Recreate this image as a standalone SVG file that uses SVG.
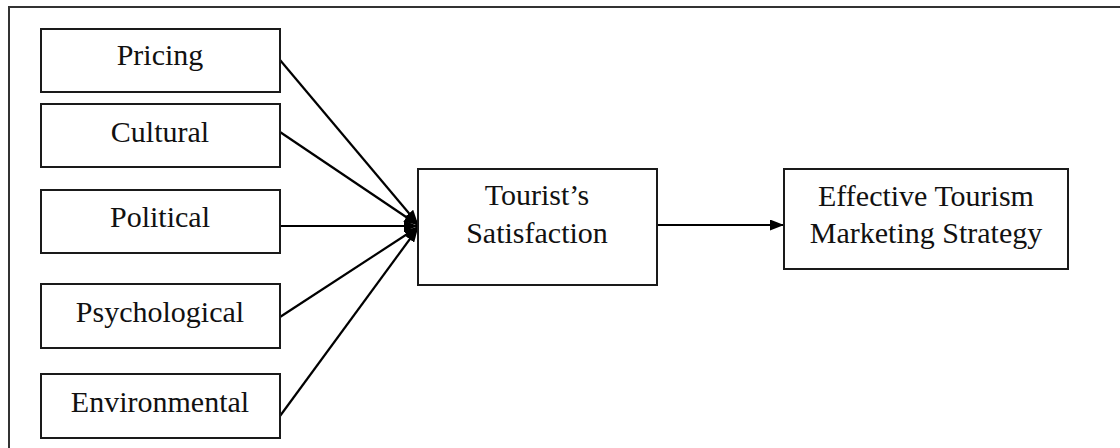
<svg xmlns="http://www.w3.org/2000/svg" width="1120" height="448" viewBox="0 0 1120 448">
<defs>
<style>
.box{fill:#fff;stroke:#1a1a1a;stroke-width:2}
.t{font-family:"Liberation Serif","Times New Roman",serif;font-size:30px;fill:#111;text-anchor:middle}
.c{stroke:#000;stroke-width:2.2;fill:none;marker-end:url(#ah)}
</style>
<marker id="ah" viewBox="0 0 14 11" refX="14" refY="5.5" markerWidth="14" markerHeight="11" markerUnits="userSpaceOnUse" orient="auto">
<path d="M0,0 L14,5.5 L0,11 Z" fill="#000"/>
</marker>
</defs>
<rect width="1120" height="448" fill="#fff"/>
<rect x="9" y="7" width="1200" height="500" fill="none" stroke="#333" stroke-width="2"/>
<g id="connectors">
<line class="c" x1="280" y1="60" x2="418" y2="224"/>
<line class="c" x1="280" y1="132" x2="418" y2="225"/>
<line class="c" x1="280" y1="226" x2="418" y2="226"/>
<line class="c" x1="280" y1="317" x2="418" y2="227"/>
<line class="c" x1="280" y1="416" x2="418" y2="228"/>
<line class="c" x1="657" y1="225" x2="784" y2="225"/>
</g>
<g id="pricing"><rect class="box" x="41" y="29" width="239" height="63"/><text class="t" x="160" y="65">Pricing</text></g>
<g id="cultural"><rect class="box" x="41" y="104" width="239" height="63"/><text class="t" x="160" y="142">Cultural</text></g>
<g id="political"><rect class="box" x="41" y="190" width="239" height="63"/><text class="t" x="160" y="227">Political</text></g>
<g id="psychological"><rect class="box" x="41" y="284" width="239" height="64"/><text class="t" x="160" y="322">Psychological</text></g>
<g id="environmental"><rect class="box" x="41" y="374" width="239" height="64"/><text class="t" x="160" y="412">Environmental</text></g>
<g id="satisfaction"><rect class="box" x="418" y="169" width="239" height="116"/><text class="t" x="537" y="205">Tourist’s</text><text class="t" x="537" y="243">Satisfaction</text></g>
<g id="strategy"><rect class="box" x="784" y="169" width="284" height="100"/><text class="t" x="926" y="206">Effective Tourism</text><text class="t" x="926" y="243">Marketing Strategy</text></g>
</svg>
